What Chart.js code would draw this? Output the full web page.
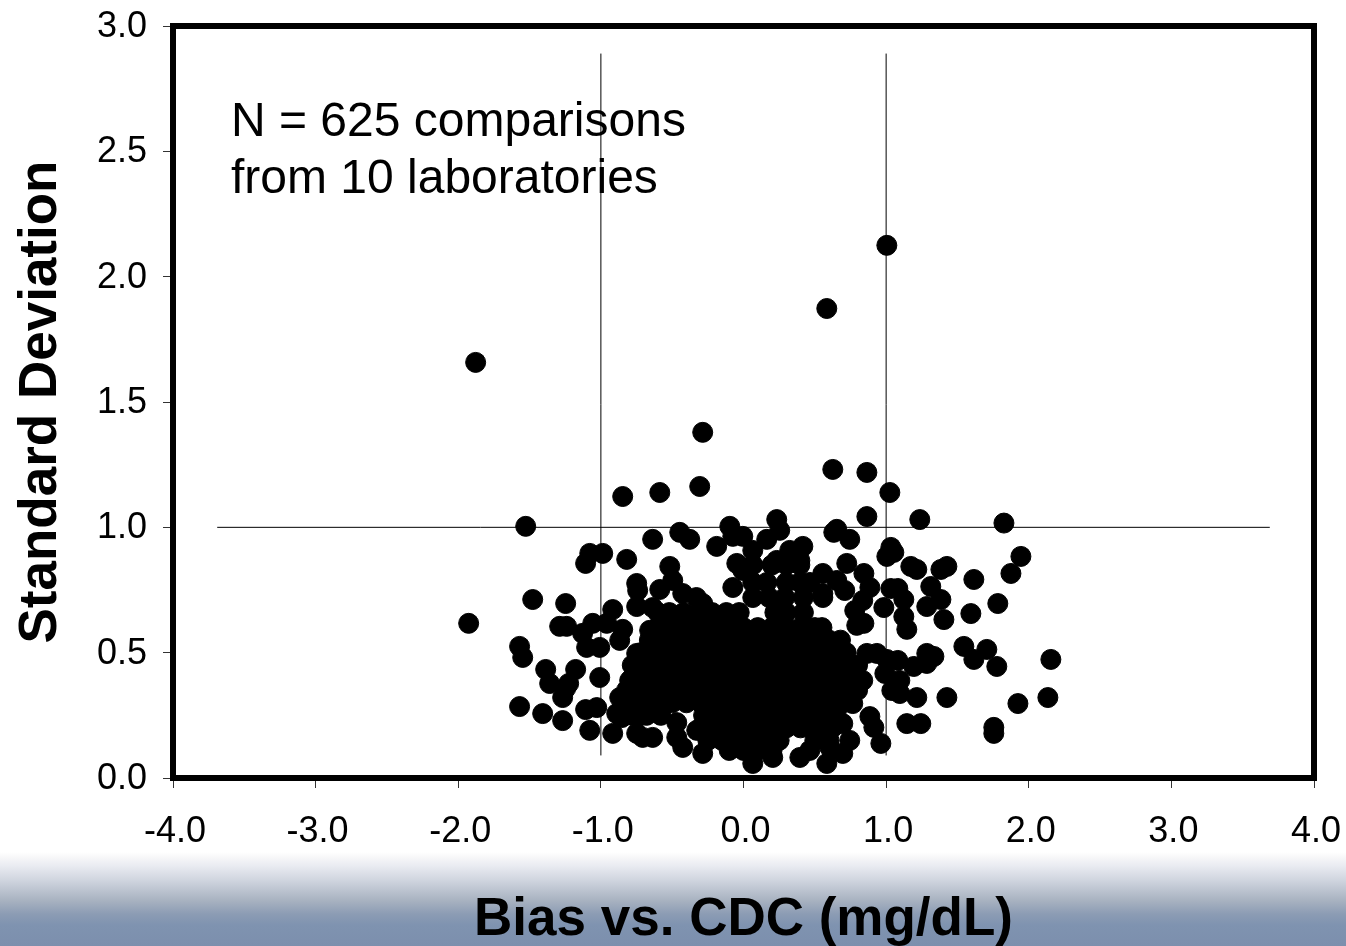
<!DOCTYPE html>
<html>
<head>
<meta charset="utf-8">
<title>Bias vs. CDC</title>
<script src="https://cdn.jsdelivr.net/npm/chart.js@4"></script>
<style>
  html, body { margin: 0; padding: 0; }
  body {
    width: 1346px;
    height: 946px;
    overflow: hidden;
    background: linear-gradient(to bottom, #ffffff 0, #ffffff 852px, #f6f6f8 858px, #e9ebf1 866px, #d0d5df 880px, #a9b3c1 900px, #8c9cb4 914px, #7f93b0 925px, #7c8fad 946px);
  }
  canvas { display: block; }
</style>
</head>
<body>
<canvas id="sdChart" width="1346" height="946"></canvas>
<script>
const xTicks = [-4, -3, -2, -1, 0, 1, 2, 3, 4];
const yTicks = [0, 0.5, 1, 1.5, 2, 2.5, 3];
const noteLines = ['N = 625 comparisons', 'from 10 laboratories'];

// limit lines
const sdLimit = [[-3.69, 1.0], [3.69, 1.0]];
const biasLow = [[-1, 0.09], [-1, 2.89]];
const biasHigh = [[1, 0.09], [1, 2.89]];

// points that can be read one by one: [bias, sd]
const outerPoints = [
  [1.005, 2.125], [0.584, 1.873], [-1.878, 1.658], [-0.286, 1.379], [0.626, 1.231], [0.865, 1.219],
  [-0.847, 1.123], [-0.587, 1.139], [-0.307, 1.163], [1.026, 1.139], [0.865, 1.043], [1.236, 1.031],
  [1.826, 1.017], [-1.527, 1.004], [-1.927, 0.617], [-1.478, 0.712], [-1.247, 0.696], [-1.289, 0.605],
  [-1.24, 0.605], [-1.57, 0.525], [-1.548, 0.481], [-1.387, 0.433], [-1.359, 0.377], [-1.177, 0.433],
  [-1.226, 0.377], [-1.247, 0.357], [-1.268, 0.321], [-1.57, 0.285], [-1.408, 0.257], [-1.268, 0.229],
  [-1.107, 0.273], [-1.029, 0.281], [-1.078, 0.19], [-0.917, 0.178], [-1.008, 0.401], [-1.078, 0.896],
  [-0.987, 0.896], [-1.107, 0.856], [-0.819, 0.872], [-0.637, 0.952], [-0.447, 0.98], [-0.377, 0.952],
  [-0.188, 0.924], [-0.096, 1.004], [-0.075, 0.964], [-0.005, 0.964], [0.163, 0.952], [0.233, 1.031],
  [0.254, 0.988], [-0.517, 0.844], [-0.749, 0.776], [-0.742, 0.748], [-0.587, 0.752], [-0.496, 0.788],
  [-0.426, 0.736], [-0.286, 0.696], [-0.917, 0.672], [-0.749, 0.684], [-0.637, 0.68], [-0.658, 0.589],
  [-0.847, 0.593], [-1.057, 0.617], [-0.959, 0.617], [-1.128, 0.577], [-1.1, 0.521], [-1.008, 0.521],
  [-0.868, 0.549], [-0.749, 0.497], [-0.658, 0.481], [-0.798, 0.389], [-0.868, 0.321], [-0.889, 0.257],
  [-0.854, 0.241], [-0.749, 0.178], [-0.707, 0.162], [-0.637, 0.162], [-0.468, 0.221], [-0.468, 0.162],
  [-0.426, 0.122], [-0.286, 0.098], [-0.328, 0.19], [0.065, 0.058], [0.205, 0.082], [-0.075, 0.76],
  [-0.047, 0.856], [-0.005, 0.828], [0.065, 0.908], [0.654, 0.992], [0.633, 0.98], [0.745, 0.952],
  [0.324, 0.908], [0.416, 0.924], [0.395, 0.868], [0.233, 0.868], [0.724, 0.856], [0.844, 0.816],
  [0.886, 0.76], [0.556, 0.816], [0.654, 0.788], [0.71, 0.748], [0.556, 0.736], [0.836, 0.708],
  [0.78, 0.668], [0.794, 0.609], [0.844, 0.617], [1.033, 0.92], [1.054, 0.9], [1.005, 0.884],
  [1.173, 0.844], [1.215, 0.832], [1.384, 0.832], [1.426, 0.844], [1.615, 0.792], [1.945, 0.884],
  [1.875, 0.816], [1.033, 0.756], [1.082, 0.756], [1.124, 0.712], [1.313, 0.764], [1.384, 0.712],
  [1.285, 0.684], [0.984, 0.68], [1.124, 0.644], [1.145, 0.593], [1.405, 0.632], [1.594, 0.656],
  [1.783, 0.696], [1.545, 0.525], [1.706, 0.513], [1.615, 0.473], [1.776, 0.445], [2.155, 0.473],
  [1.285, 0.497], [1.335, 0.485], [1.285, 0.457], [1.194, 0.445], [1.082, 0.469], [1.005, 0.473],
  [0.935, 0.497], [0.865, 0.497], [0.991, 0.417], [1.096, 0.389], [1.04, 0.349], [1.096, 0.337],
  [1.215, 0.321], [1.426, 0.321], [2.134, 0.321], [1.924, 0.297], [1.755, 0.202], [1.755, 0.178],
  [1.145, 0.217], [1.243, 0.217], [0.886, 0.245], [0.914, 0.202], [0.963, 0.138], [0.745, 0.15],
  [0.696, 0.098], [0.605, 0.122], [0.584, 0.058], [0.465, 0.11], [0.395, 0.082], [0.696, 0.217],
  [0.626, 0.202], [0.766, 0.297], [0.836, 0.389]
];

// the dense middle overlaps solid, so these are estimates row by row
const coreSd = [0.85, 0.78, 0.72, 0.66, 0.6, 0.55, 0.5, 0.45, 0.4, 0.35, 0.3, 0.25, 0.2, 0.15, 0.11];
const coreBias = [
  [0.065, 0.2, 0.3, 0.395],
  [0.065, 0.163, 0.3, 0.395, 0.465],
  [-0.33, 0.065, 0.18, 0.29, 0.42, 0.556],
  [-0.6, -0.52, -0.42, -0.32, -0.22, -0.12, -0.03, 0.22, 0.3, 0.42],
  [-0.6, -0.5, -0.4, -0.3, -0.2, -0.1, 0, 0.1, 0.2, 0.3, 0.4, 0.5, 0.55],
  [-0.66, -0.6, -0.5, -0.4, -0.3, -0.2, -0.1, 0, 0.1, 0.2, 0.3, 0.4, 0.5, 0.6, 0.68],
  [-0.72, -0.65, -0.55, -0.45, -0.35, -0.25, -0.15, -0.05, 0.05, 0.15, 0.25, 0.35, 0.45, 0.55, 0.65, 0.72],
  [-0.78, -0.7, -0.6, -0.5, -0.4, -0.3, -0.2, -0.1, 0, 0.1, 0.2, 0.3, 0.4, 0.5, 0.6, 0.7, 0.8],
  [-0.78, -0.68, -0.58, -0.48, -0.38, -0.28, -0.18, -0.08, 0.02, 0.12, 0.22, 0.32, 0.42, 0.52, 0.62, 0.72, 0.8],
  [-0.82, -0.75, -0.65, -0.55, -0.45, -0.35, -0.25, -0.15, -0.05, 0.05, 0.15, 0.25, 0.35, 0.45, 0.55, 0.65, 0.75, 0.8],
  [-0.78, -0.7, -0.6, -0.5, -0.4, -0.3, -0.2, -0.1, 0, 0.1, 0.2, 0.3, 0.4, 0.5, 0.6, 0.7],
  [-0.78, -0.72, -0.68, -0.58, -0.28, -0.15, -0.05, 0.05, 0.15, 0.25, 0.35, 0.45, 0.55, 0.65],
  [-0.3, -0.2, -0.1, 0, 0.1, 0.2, 0.3, 0.4, 0.52],
  [-0.25, -0.15, -0.05, 0.05, 0.15, 0.25, 0.5, 0.6],
  [-0.1, 0, 0.1, 0.2]
];

const corePoints = coreSd.flatMap((sd, i) => coreBias[i].map((bias) => [bias, sd]));
const toXY = (pairs) => pairs.map((p) => ({ x: p[0], y: p[1] }));

const lineSet = (pairs) => ({
  type: 'scatter',
  data: toXY(pairs),
  showLine: true,
  borderColor: '#000',
  borderWidth: 1,
  pointRadius: 0,
  order: 2,
});

// heavy box round the plot, and the note text
const framePlugin = {
  id: 'frame',
  afterDatasetsDraw(chart) {
    const { ctx, chartArea: a } = chart;
    ctx.save();
    ctx.strokeStyle = '#000';
    ctx.lineWidth = 6;
    ctx.strokeRect(a.left, a.top, a.right - a.left, a.bottom - a.top);
    ctx.fillStyle = '#000';
    ctx.font = '48px "Liberation Sans"';
    ctx.textBaseline = 'alphabetic';
    ctx.fillText(noteLines[0], 231, 136);
    ctx.fillText(noteLines[1], 231, 193);
    ctx.restore();
  },
};

new Chart(document.getElementById('sdChart'), {
  type: 'scatter',
  data: {
    datasets: [
      {
        label: 'Comparisons',
        data: toXY(outerPoints.concat(corePoints)),
        backgroundColor: '#000',
        borderColor: '#000',
        pointRadius: 10,
        order: 1,
      },
      lineSet(sdLimit),
      lineSet(biasLow),
      lineSet(biasHigh),
    ],
  },
  options: {
    responsive: false,
    animation: false,
    layout: { padding: { top: 26, right: 32, bottom: 0, left: 0 } },
    plugins: { legend: { display: false }, tooltip: { enabled: false } },
    scales: {
      x: {
        type: 'linear',
        min: -4,
        max: 4,
        afterFit: (scale) => {
          scale.height = 168;
          scale.paddingLeft = 0;
          scale.paddingRight = 0;
        },
        afterBuildTicks: (scale) => { scale.ticks = xTicks.map((value) => ({ value })); },
        grid: { drawOnChartArea: false, color: '#333', tickLength: 10 },
        border: { display: false },
        ticks: {
          maxRotation: 0,
          padding: 22,
          labelOffset: 2,
          color: '#000',
          font: { family: '"Liberation Sans"', size: 36 },
          callback: (v) => v.toFixed(1),
        },
        title: {
          display: true,
          text: 'Bias vs. CDC (mg/dL)',
          color: '#000',
          font: { family: '"Liberation Sans"', size: 53, weight: 'bold' },
          padding: { top: 0, bottom: -6 },
        },
      },
      y: {
        type: 'linear',
        min: 0,
        max: 3,
        afterFit: (scale) => {
          scale.width = 173;
          scale.paddingTop = 0;
          scale.paddingBottom = 0;
        },
        afterBuildTicks: (scale) => { scale.ticks = yTicks.map((value) => ({ value })); },
        grid: { drawOnChartArea: false, color: '#333', tickLength: 10 },
        border: { display: false },
        ticks: {
          padding: 16,
          labelOffset: 1,
          color: '#000',
          font: { family: '"Liberation Sans"', size: 36 },
          callback: (v) => v.toFixed(1),
        },
        title: {
          display: true,
          text: 'Standard Deviation',
          color: '#000',
          font: { family: '"Liberation Sans"', size: 53, weight: 'bold' },
          padding: { top: 10, bottom: 0 },
        },
      },
    },
  },
  plugins: [framePlugin],
});
</script>
</body>
</html>
